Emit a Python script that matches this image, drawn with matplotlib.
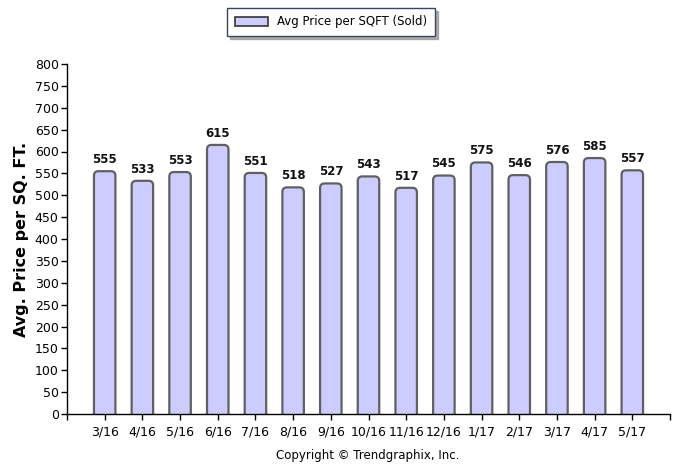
import matplotlib
matplotlib.use("Agg")
import matplotlib.pyplot as plt
from matplotlib.patches import FancyBboxPatch, Patch

categories = ["3/16", "4/16", "5/16", "6/16", "7/16", "8/16", "9/16", "10/16",
              "11/16", "12/16", "1/17", "2/17", "3/17", "4/17", "5/17"]
values = [555, 533, 553, 615, 551, 518, 527, 543, 517, 545, 575, 546, 576, 585, 557]
series_name = "Avg Price per SQFT (Sold)"

plt.rcParams['font.family'] = ['DejaVu Sans']

fig = plt.figure(figsize=(6.86, 4.70), dpi=100)
ax = fig.add_axes([67/686, 56/470, (670-67)/686, (414-64)/470])

fill = "#CCCCFF"
edge = "#606060"
x = list(range(len(categories)))
bars = ax.bar(x, values, width=0.57, color="none", edgecolor="none")

# rounded tops
xunit_px = (670-67)/16
yunit_px = 350/800
aspect = (1/yunit_px) / (1/xunit_px)
for b in bars:
    bx, bw, bh = b.get_x(), b.get_width(), b.get_height()
    p = FancyBboxPatch((bx, -30), bw, bh + 30,
                       boxstyle="round,pad=0,rounding_size=0.12",
                       mutation_aspect=aspect,
                       facecolor=fill, edgecolor=edge, linewidth=1.6,
                       clip_on=True, zorder=2)
    ax.add_patch(p)
    ax.text(b.get_x() + bw/2, bh + 12, f"{int(bh)}", ha="center", va="bottom",
            fontsize=8.5, fontweight="bold", color="#111111")

ax.set_xlim(-1, len(categories))
ax.set_ylim(0, 800)
ax.set_yticks(range(0, 801, 50))
ax.set_xticks([-1] + x + [len(categories)])
ax.set_xticklabels([""] + categories + [""])
ax.tick_params(axis="both", direction="out", length=4, width=1, labelsize=9,
               colors="black", pad=2)
ax.tick_params(axis="x", pad=4)
for s in ["top", "right"]:
    ax.spines[s].set_visible(False)
for s in ["left", "bottom"]:
    ax.spines[s].set_linewidth(1)
ax.set_ylabel("Avg. Price per SQ. FT.", fontsize=11.5, fontweight="bold", labelpad=4)

handle = Patch(facecolor=fill, edgecolor="#333333", linewidth=1.2)
leg = fig.legend([handle], [series_name], loc="center", bbox_to_anchor=(331/686, 1 - 22/470),
                 fontsize=8.5, frameon=True, fancybox=False,
                 shadow={"color": "#999999", "alpha": 0.8},
                 handlelength=2.8, handleheight=0.9, borderpad=0.65, edgecolor="#3a4560")
leg.get_frame().set_linewidth(1)

fig.text(368/686, 1 - 455/470, "Copyright \u00a9 Trendgraphix, Inc.", ha="center", va="center",
         fontsize=8.5)

fig.savefig("out.png", dpi=100)
